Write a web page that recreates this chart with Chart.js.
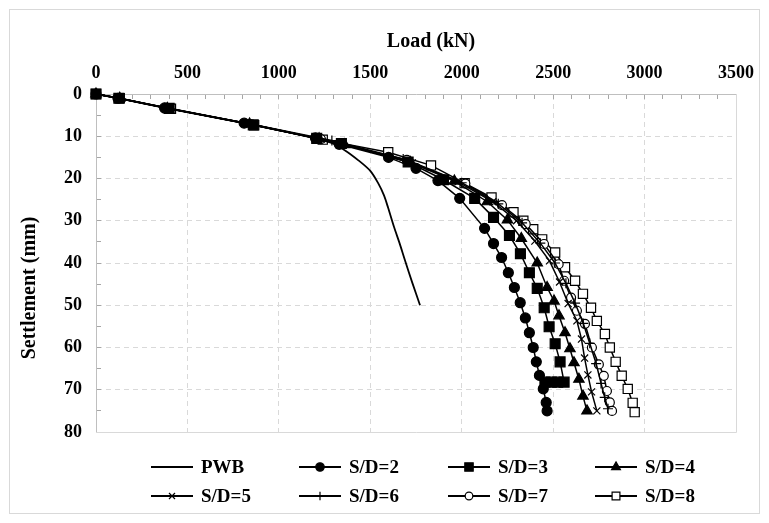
<!DOCTYPE html>
<html lang="en">
<head>
<meta charset="UTF-8">
<title>Load - Settlement</title>
<script src="https://cdn.jsdelivr.net/npm/chart.js"></script>
<style>
  body { margin: 0; background: #fff; }
  #chart-container { position: relative; width: 769px; height: 523px; }
</style>
</head>
<body>
<div id="chart-container"><canvas id="myChart"></canvas></div>
<script>
// values: load in kN, settlement in mm
const seriesNames = ['PWB', 'S/D=2', 'S/D=3', 'S/D=4', 'S/D=5', 'S/D=6', 'S/D=7', 'S/D=8'];

const pwbLoad   = [0, 120, 400, 850, 1200, 1288, 1360, 1435, 1500, 1543, 1575, 1598, 1630, 1660, 1690, 1730, 1772];
const pwbSettle = [0, 1, 3.4, 7.2, 10.5, 11.6, 13.3, 15.7, 18.2, 21.1, 24, 27, 31.5, 35.3, 39.4, 44.7, 50];

const sd2Load   = [0, 120, 375, 810, 1200, 1330, 1600, 1750, 1870, 1989, 2125, 2174, 2218, 2255, 2288, 2320, 2348, 2370, 2391, 2408, 2425, 2446, 2462, 2467];
const sd2Settle = [0, 1, 3.3, 6.9, 10.4, 11.9, 15, 17.6, 20.5, 24.7, 31.8, 35.4, 38.7, 42.3, 45.8, 49.4, 53, 56.5, 60, 63.4, 66.6, 69.8, 73, 75];

const sd3Load   = [0, 125, 400, 860, 1207, 1342, 1707, 1900, 2071, 2174, 2261, 2321, 2370, 2413, 2451, 2478, 2511, 2538, 2560, 2525, 2490, 2455];
const sd3Settle = [0, 1, 3.4, 7.3, 10.5, 11.7, 16.1, 20.3, 24.7, 29.2, 33.5, 37.8, 42.3, 46, 50.6, 55.1, 59.1, 63.4, 68.2, 68.2, 68.2, 68.2];

const sd4Load   = [0, 130, 390, 840, 1220, 1360, 1720, 1960, 2140, 2250, 2326, 2413, 2467, 2505, 2532, 2565, 2592, 2614, 2641, 2663, 2685];
const sd4Settle = [0, 1, 3.4, 7.1, 10.6, 12, 16.2, 20.6, 25.5, 29.8, 34.2, 40, 45.8, 49, 52.5, 56.5, 60.3, 63.6, 67.5, 71.5, 75];

const sd5Load   = [0, 125, 385, 830, 1215, 1350, 1730, 1980, 2170, 2300, 2400, 2480, 2535, 2582, 2630, 2655, 2672, 2690, 2710, 2739];
const sd5Settle = [0, 1, 3.3, 7, 10.5, 11.9, 16.3, 20.8, 25.5, 30, 34.8, 39.5, 44.5, 49.6, 53.7, 58, 62.5, 66.5, 70.5, 75];

const sd6Load   = [0, 125, 390, 845, 1290, 1680, 2000, 2200, 2330, 2430, 2510, 2570, 2620, 2665, 2700, 2735, 2762, 2782, 2800];
const sd6Settle = [0, 1, 3.4, 7.1, 11, 15.4, 21, 26, 30.5, 35.3, 40, 44.8, 49.5, 54.3, 59, 63.8, 68.5, 71.8, 74.5];

const sd7Load   = [0, 125, 395, 850, 1230, 1700, 2020, 2220, 2350, 2450, 2530, 2560, 2598, 2630, 2674, 2712, 2750, 2777, 2794, 2810, 2822];
const sd7Settle = [0, 1, 3.4, 7.2, 10.7, 15.6, 21.2, 26.3, 30.8, 35.5, 40.3, 44.2, 48.2, 51.3, 54.4, 60, 64, 66.7, 70.3, 73, 75];

const sd8Load   = [0, 130, 410, 865, 1240, 1598, 1832, 2016, 2163, 2283, 2337, 2391, 2440, 2511, 2565, 2620, 2663, 2707, 2739, 2783, 2810, 2842, 2875, 2908, 2935, 2946];
const sd8Settle = [0, 1, 3.5, 7.4, 10.8, 13.8, 16.9, 21.1, 24.5, 28, 30, 32, 34.4, 37.5, 41, 44.2, 47.3, 50.6, 53.7, 56.8, 60, 63.4, 66.7, 69.8, 73.1, 75.3];

const xTickMajor = 500;
const yTickMajor = 10;

const loads   = [pwbLoad, sd2Load, sd3Load, sd4Load, sd5Load, sd6Load, sd7Load, sd8Load];
const settles = [pwbSettle, sd2Settle, sd3Settle, sd4Settle, sd5Settle, sd6Settle, sd7Settle, sd8Settle];

// marker look for each series
const markers = [
    { style: false,      radius: 0, fill: '#000' },
    { style: 'circle',   radius: 5, fill: '#000' },
    { style: 'rect',     radius: 7, fill: '#000' },
    { style: 'triangle', radius: 6, fill: '#000' },
    { style: 'crossRot', radius: 5, fill: '#000' },
    { style: 'cross',    radius: 5, fill: '#000' },
    { style: 'circle',   radius: 4.5, fill: '#fff' },
    { style: 'rect',     radius: 6.5, fill: '#fff' }
];

const datasets = seriesNames.map(function(name, i) {
    return {
        label: name,
        data: loads[i].map(function(x, j) { return { x: x, y: settles[i][j] }; }),
        showLine: true,
        clip: false,
        borderColor: '#000',
        borderWidth: i === 0 ? 1.8 : 1.5,
        tension: i === 0 ? 0.3 : 0,
        pointStyle: markers[i].style,
        pointRadius: markers[i].radius,
        pointBackgroundColor: markers[i].fill,
        pointBorderColor: '#000',
        pointBorderWidth: 1.2
    };
});

const serif = "'Liberation Serif', 'Times New Roman', serif";
const pad = '\u00a0';

// outer frame, right/bottom edges of the plot, and the line+marker legend
const framePlugin = {
    id: 'frame',
    beforeDatasetsDraw: function(chart) {
        const a = chart.chartArea, c = chart.ctx;
        c.save();
        c.strokeStyle = '#d9d9d9';
        c.lineWidth = 1;
        c.beginPath();
        c.moveTo(a.right + 0.5, a.top);
        c.lineTo(a.right + 0.5, a.bottom + 0.5);
        c.lineTo(a.left, a.bottom + 0.5);
        c.stroke();
        c.restore();
    },
    afterDraw: function(chart) {
        const c = chart.ctx;
        c.save();
        c.strokeStyle = '#d9d9d9';
        c.lineWidth = 1;
        c.strokeRect(9.5, 9.5, chart.width - 19, chart.height - 19);

        const colX = [151, 299, 448, 595];
        const rowY = [467, 496];
        c.font = 'bold 19px ' + serif;
        c.textBaseline = 'middle';
        c.fillStyle = '#000';
        chart.data.datasets.forEach(function(ds, i) {
            const x = colX[i % 4], y = rowY[Math.floor(i / 4)];
            c.strokeStyle = '#000';
            c.lineWidth = 2;
            c.beginPath();
            c.moveTo(x, y);
            c.lineTo(x + 42, y);
            c.stroke();
            if (ds.pointStyle) {
                c.fillStyle = ds.pointBackgroundColor;
                c.strokeStyle = '#000';
                c.lineWidth = 1.2;
                Chart.helpers.drawPoint(c, {
                    pointStyle: ds.pointStyle,
                    radius: ds.pointRadius * 0.85,
                    rotation: 0,
                    borderWidth: 1.2
                }, x + 21, y);
            }
            c.fillStyle = '#000';
            c.fillText(ds.label, x + 50, y + 1);
        });
        c.restore();
    }
};

const ctx = document.getElementById('myChart').getContext('2d');
const myChart = new Chart(ctx, {
    type: 'scatter',
    data: { datasets: datasets },
    plugins: [framePlugin],
    options: {
        responsive: true,
        maintainAspectRatio: false,
        animation: false,
        layout: { padding: { left: 14, top: 26, right: 29, bottom: 91 } },
        scales: {
            x: {
                type: 'linear',
                position: 'top',
                min: 0,
                max: 3500,
                afterFit: function(scale) { scale.height = 68; },
                ticks: {
                    stepSize: 100,
                    autoSkip: false,
                    maxRotation: 0,
                    padding: 15,
                    color: '#000',
                    font: { family: serif, size: 18, weight: 'bold' },
                    callback: function(v) { return v % xTickMajor === 0 ? v : ''; }
                },
                grid: {
                    color: function(c) { return c.tick && c.tick.value % xTickMajor === 0 && c.tick.value > 0 ? '#d9d9d9' : 'rgba(0,0,0,0)'; },
                    tickColor: '#a6a6a6',
                    tickLength: -5
                },
                border: { color: '#bfbfbf', dash: [5, 4] },
                title: {
                    display: true,
                    text: pad.repeat(6) + 'Load (kN)',
                    color: '#000',
                    font: { family: serif, size: 20, weight: 'bold' },
                    padding: { top: 4, bottom: 4 }
                }
            },
            y: {
                type: 'linear',
                reverse: true,
                min: 0,
                max: 80,
                afterFit: function(scale) { scale.width = 82; },
                ticks: {
                    stepSize: 5,
                    autoSkip: false,
                    padding: 19,
                    color: '#000',
                    font: { family: serif, size: 18, weight: 'bold' },
                    callback: function(v) { return v % yTickMajor === 0 ? v : ''; }
                },
                grid: {
                    color: function(c) { return c.tick && c.tick.value % yTickMajor === 0 && c.tick.value > 0 && c.tick.value < 80 ? '#d9d9d9' : 'rgba(0,0,0,0)'; },
                    tickColor: '#a6a6a6',
                    tickLength: -5
                },
                border: { color: '#bfbfbf', dash: [5, 4] },
                title: {
                    display: true,
                    text: 'Settlement (mm)' + pad.repeat(10),
                    color: '#000',
                    font: { family: serif, size: 20, weight: 'bold' },
                    padding: { top: 4, bottom: 4 }
                }
            }
        },
        plugins: {
            legend: { display: false },
            tooltip: { enabled: false }
        }
    }
});
</script>
</body>
</html>
